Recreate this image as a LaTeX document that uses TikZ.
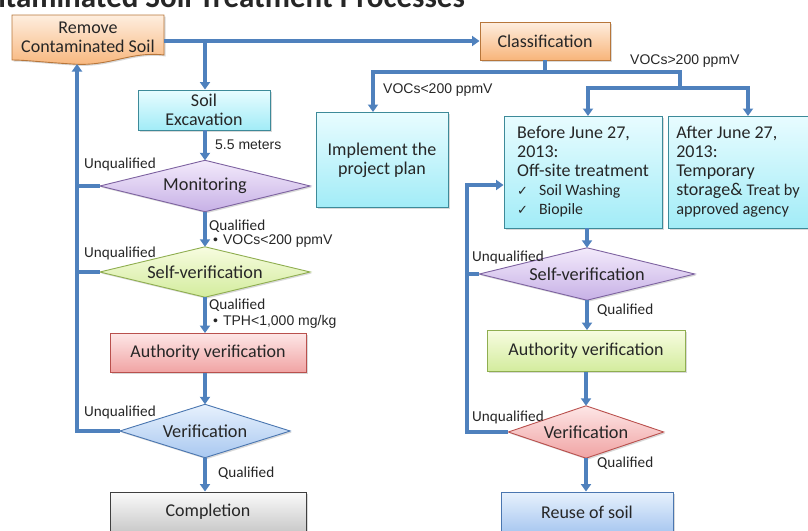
\documentclass[tikz,border=0pt]{standalone}
\usepackage{fontspec}
\setmainfont{Carlito}
\newfontfamily\arialf{Liberation Sans}
\newfontfamily\dejavu{DejaVu Sans}
\usetikzlibrary{arrows.meta,shadows,backgrounds}
\definecolor{ln}{HTML}{4F81BD}
\definecolor{orT}{HTML}{FEEEDF}\definecolor{orB}{HTML}{F8B57A}\definecolor{orD}{HTML}{B7763A}
\definecolor{cyT}{HTML}{E8FCFF}\definecolor{cyB}{HTML}{A2ECF7}\definecolor{cyD}{HTML}{3D8A99}
\definecolor{puT}{HTML}{F3EAFB}\definecolor{puB}{HTML}{C7B1E6}\definecolor{puD}{HTML}{7D62A0}
\definecolor{ygT}{HTML}{F7FCE0}\definecolor{ygB}{HTML}{D3EC9D}\definecolor{ygD}{HTML}{8FAE50}
\definecolor{pkT}{HTML}{FDE6E6}\definecolor{pkB}{HTML}{F0A3A3}\definecolor{pkD}{HTML}{B9504D}
\definecolor{blT}{HTML}{E7F1FD}\definecolor{blB}{HTML}{A9C8F0}\definecolor{blD}{HTML}{4A76B0}
\definecolor{grT}{HTML}{FAFAFA}\definecolor{grB}{HTML}{C9C9C9}\definecolor{grD}{HTML}{3F3F3F}
\newcommand\mydiamond[2]{\path[#2] (#1.north) -- (#1.east) -- (#1.south) -- (#1.west) -- cycle;}
\begin{document}
\begin{tikzpicture}[x=1pt,y=-1pt,
  shd/.style={drop shadow={opacity=0.3,shadow xshift=1.5pt,shadow yshift=-1.5pt}},
  fillor/.style={top color=orT,bottom color=orB,draw=orD,line width=0.9pt,shd},
  fillcy/.style={top color=cyT,bottom color=cyB,draw=cyD,line width=0.9pt,shd},
  fillpu/.style={top color=puT,bottom color=puB,draw=puD,line width=0.9pt,shd},
  fillyg/.style={top color=ygT,bottom color=ygB,draw=ygD,line width=0.9pt,shd},
  fillpk/.style={top color=pkT,bottom color=pkB,draw=pkD,line width=0.9pt,shd},
  fillbl/.style={top color=blT,bottom color=blB,draw=blD,line width=0.9pt,shd},
  fillgr/.style={top color=grT,bottom color=grB,draw=grD,line width=0.9pt,shd},
  txt/.style={rectangle,inner sep=0pt,align=center,text=black!85,font=\fontsize{18}{19}\selectfont},
  dtxt/.style={txt,font=\fontsize{18.3}{20}\selectfont},
  lab/.style={inner sep=0pt,text=black!85,font=\fontsize{15.2}{17}\selectfont},
  alab/.style={inner sep=0pt,text=black!85,font=\arialf\fontsize{14}{16}\selectfont},
  conn/.style={draw=ln,line width=3.2pt},
  arr/.style={conn,-{Triangle[width=10pt,length=7.5pt]}}
]
\clip (0,0) rectangle (808,530);
% title (cut off at top)
\node[anchor=base east,inner sep=0pt,text=black!85,font=\bfseries\fontsize{31}{33}\selectfont] (title) at (465,8) {Contaminated Soil Treatment Processes};

% boxes
\node[txt,minimum width=152,minimum height=44] (remove) at (88,37) {Remove\\Contaminated Soil};
\begin{pgfonlayer}{background}
\path[fillor] (12,15) -- (164,15) -- (164,55) .. controls (130,51) and (110,67) .. (72,64) .. controls (40,62) and (25,60) .. (12,60) -- cycle;
\end{pgfonlayer}
\node[txt,fillor,minimum width=130,minimum height=38] (class) at (545,41) {Classification};
\node[txt,fillcy,minimum width=132,minimum height=40] (exc) at (204,110) {Soil\\Excavation};
\node[txt,fillcy,minimum width=132,minimum height=95] (impl) at (382,160) {Implement the\\project plan};
\node[txt,fillcy,align=left,minimum width=158,minimum height=112] (before) at (583,172)
  {Before June 27,\\2013:\\Off-site treatment\\{\dejavu\fontsize{13}{19}\selectfont ✓}\hspace{11pt}{\fontsize{15.8}{19}\selectfont Soil Washing}\\{\dejavu\fontsize{13}{19}\selectfont ✓}\hspace{11pt}{\fontsize{15.8}{19}\selectfont Biopile}};
\node[txt,fillcy,align=left,minimum width=140,minimum height=112] (after) at (738,172)
  {After June 27,\\2013:\\Temporary\\storage\& {\fontsize{16.3}{19}\selectfont Treat by}\\{\fontsize{16.3}{19}\selectfont approved agency}};

\node[dtxt,minimum width=210,minimum height=51] (mon) at (205,186) {Monitoring};
\node[dtxt,minimum width=210,minimum height=50] (sv1) at (205,272) {Self-verification};
\node[txt,fillpk,minimum width=196,minimum height=39] (auth1) at (208,353) {Authority verification};
\node[dtxt,minimum width=170,minimum height=53] (ver1) at (205,431) {Verification};
\node[txt,fillgr,minimum width=196,minimum height=40] (comp) at (208,512) {Completion};

\node[dtxt,minimum width=215,minimum height=52] (sv2) at (587,274) {Self-verification};
\node[txt,fillyg,minimum width=198,minimum height=41] (auth2) at (586,351) {Authority verification};
\node[dtxt,minimum width=155,minimum height=52] (ver2) at (586,432) {Verification};
\node[txt,fillbl,minimum width=172,minimum height=40] (reuse) at (587,512) {Reuse of soil};

\begin{pgfonlayer}{background}
\mydiamond{mon}{fillpu}
\mydiamond{sv1}{fillyg}
\mydiamond{ver1}{fillbl}
\mydiamond{sv2}{fillpu}
\mydiamond{ver2}{fillpk}
\end{pgfonlayer}

% connectors
\coordinate (j1) at (205,41);
\draw[arr] (remove.east |- class.west) -- (class.west);
\draw[arr] (j1) -- (exc.north -| j1);
\draw[arr] (exc.south -| mon.north) -- (mon.north);
\draw[arr] (mon.south) -- (sv1.north);
\draw[arr] (sv1.south) -- (sv1.south |- auth1.north);
\draw[arr] (auth1.south -| ver1.north) -- (ver1.north);
\draw[arr] (ver1.south) -- (ver1.south |- comp.north);

\coordinate (rin) at (77,64);
\draw[arr] (ver1.west) -| (rin);
\draw[conn] (mon.west) -- (mon.west -| rin);
\draw[conn] (sv1.west) -- (sv1.west -| rin);

\coordinate (cj) at (545,72);
\coordinate (cj2) at (680,88);
\coordinate (ia) at (373,112);
\coordinate (ba) at (588,116);
\coordinate (aa) at (748,116);
\draw[conn] (class.south) -- (cj);
\draw[arr] (cj) -| (ia);
\draw[conn] (cj) -| (cj2);
\draw[arr] (cj2) -| (ba);
\draw[arr] (cj2) -| (aa);

\draw[arr] (sv2.north |- before.south) -- (sv2.north);
\draw[arr] (sv2.south) -- (sv2.south |- auth2.north);
\draw[arr] (auth2.south -| ver2.north) -- (ver2.north);
\draw[arr] (ver2.south) -- (ver2.south |- reuse.north);

\coordinate (bl) at (467,185);
\draw[arr] (ver2.west) -| (bl) -- (bl -| before.west);
\draw[conn] (sv2.west) -- (sv2.west -| bl);

% labels
\node[alab,anchor=west] (l55) at (215,145) {5.5 meters};
\node[lab,anchor=west] (q1) at (209,226) {Qualified};
\node[alab,anchor=west] (c1) at (213,241) {•\hspace{5pt}VOCs<200 ppmV};
\node[lab,anchor=west] (q2) at (209,305) {Qualified};
\node[alab,anchor=west] (c2) at (213,322) {•\hspace{5pt}TPH<1,000 mg/kg};
\node[lab,anchor=west] (q3) at (218,473) {Qualified};
\node[lab,anchor=west] (u1) at (84,164) {Unqualified};
\node[lab,anchor=west] (u2) at (84,253) {Unqualified};
\node[lab,anchor=west] (u3) at (84,412) {Unqualified};
\node[lab,anchor=west] (u4) at (472,257) {Unqualified};
\node[lab,anchor=west] (u5) at (472,417) {Unqualified};
\node[lab,anchor=west] (q4) at (597,310) {Qualified};
\node[lab,anchor=west] (q5) at (597,463) {Qualified};
\node[alab,anchor=west] (vl) at (383,90) {VOCs<200 ppmV};
\node[alab,anchor=west] (vg) at (630,61) {VOCs>200 ppmV};
\end{tikzpicture}
\end{document}
